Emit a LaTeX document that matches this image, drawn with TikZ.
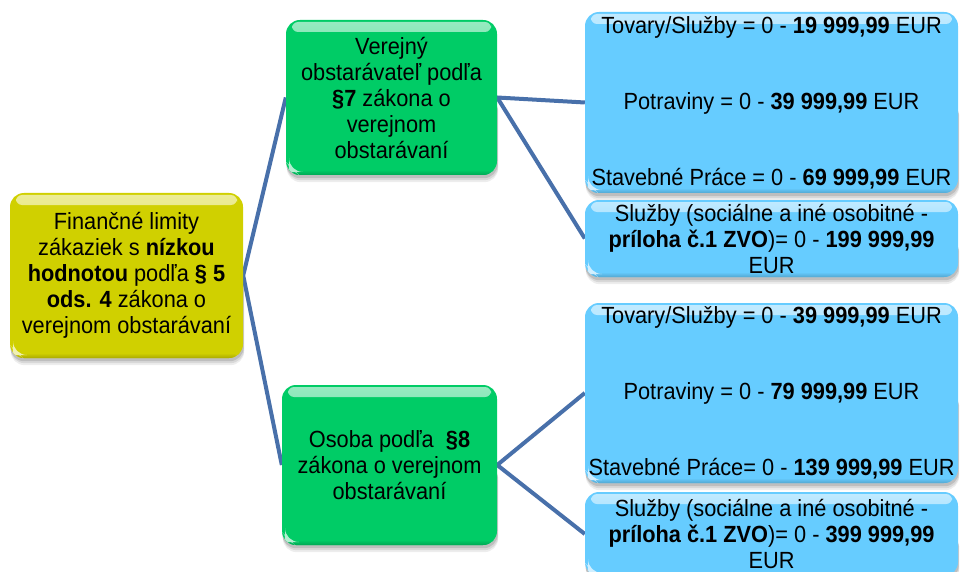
\documentclass[tikz,border=0pt]{standalone}
\usepackage{fontspec}
\setmainfont[FakeStretch=0.93]{Liberation Sans}
\usetikzlibrary{backgrounds}

\definecolor{rootfill}{RGB}{208,208,0}
\definecolor{midfill}{RGB}{0,204,102}
\definecolor{leaffill}{RGB}{102,204,255}
\definecolor{linkcol}{RGB}{72,112,170}

\tikzset{
  glossy/.style={
    rounded corners=14pt, fill=#1, inner sep=0pt, align=center,
    font=\fontsize{23.4}{26}\selectfont,
    path picture={
      % soft highlight just under the top edge
      \shade[top color=white!60!#1, bottom color=#1, rounded corners=6pt]
        ([xshift=6pt,yshift=-2pt]path picture bounding box.north west) rectangle
        ([xshift=-6pt,yshift=-12pt]path picture bounding box.north east);
      % slightly darker rim along the bottom
      \shade[top color=#1, bottom color=#1!82!black]
        ([yshift=5pt]path picture bounding box.south west) rectangle
        (path picture bounding box.south east);
      % bright glint in the lower left corner
      \fill[white, opacity=.7]
        ([xshift=3pt,yshift=3pt]path picture bounding box.south west) -- ++(7pt,0pt) -- ++(-7pt,7pt) -- cycle;
    }},
  rootbox/.style={glossy=rootfill},
  midbox/.style={glossy=midfill},
  leafbox/.style={glossy=leaffill},
  boxshadow/.style={fill=black, fill opacity=#1, rounded corners=14pt},
  link/.style={draw=linkcol, line width=4pt, line join=miter}
}

\begin{document}
\begin{tikzpicture}[x=1pt,y=-1pt]
  \useasboundingbox (0,0) rectangle (963,572);

  % root
  \node[rootbox, minimum width=233pt, minimum height=165pt] (root) at (126.5,275.5)
    {Finančné limity\\ zákaziek s \textbf{nízkou}\\ \textbf{hodnotou} podľa \textbf{§ 5}\\ \textbf{ods. 4} zákona o\\ verejnom obstarávaní};

  % second level
  \node[midbox, minimum width=211pt, minimum height=155pt] (g1) at (391.5,97.5)
    {Verejný\\ obstarávateľ podľa\\ \textbf{§7} zákona o\\ verejnom\\ obstarávaní};
  \node[midbox, minimum width=215pt, minimum height=160pt] (g2) at (389.5,465)
    {Osoba podľa \ \textbf{§8}\\ zákona o verejnom\\ obstarávaní};

  % limits
  \node[leafbox, minimum width=373pt, minimum height=181pt] (b1) at (771.5,102.5)
    {Tovary/Služby = 0 - \textbf{19 999,99} EUR\\[50pt]
     Potraviny = 0 - \textbf{39 999,99} EUR\\[50pt]
     Stavebné Práce = 0 - \textbf{69 999,99} EUR};
  \node[leafbox, minimum width=373pt, minimum height=77pt] (b2) at (771.5,238.5)
    {Služby (sociálne a iné osobitné -\\ \textbf{príloha č.1 ZVO})= 0 - \textbf{199 999,99}\\ EUR};
  \node[leafbox, minimum width=373pt, minimum height=180pt] (b3) at (771.5,393)
    {Tovary/Služby = 0 - \textbf{39 999,99} EUR\\[50pt]
     Potraviny = 0 - \textbf{79 999,99} EUR\\[50pt]
     Stavebné Práce= 0 - \textbf{139 999,99} EUR};
  \node[leafbox, minimum width=373pt, minimum height=84pt] (b4) at (771.5,534)
    {Služby (sociálne a iné osobitné -\\ \textbf{príloha č.1 ZVO})= 0 - \textbf{399 999,99}\\ EUR};

  \begin{scope}[on background layer]
    % soft shadows under the lower edge of every box
    \foreach \n in {root,g1,g2,b1,b2,b3,b4} {
      \fill[boxshadow=.07] ([xshift=1pt,yshift=-7pt]\n.south west) rectangle ([xshift=1pt]\n.east);
      \fill[boxshadow=.09] ([xshift=1pt,yshift=-5pt]\n.south west) rectangle ([xshift=1pt]\n.east);
      \fill[boxshadow=.12] ([xshift=.5pt,yshift=-3pt]\n.south west) rectangle ([xshift=.5pt]\n.east);
    }
    % connectors
    \draw[link] (g1.west) -- (root.east) -- (g2.west);
    \draw[link] (b1.west) -- (g1.east) -- (b2.west);
    \draw[link] (b3.west) -- (g2.east) -- (b4.west);
  \end{scope}
\end{tikzpicture}
\end{document}
